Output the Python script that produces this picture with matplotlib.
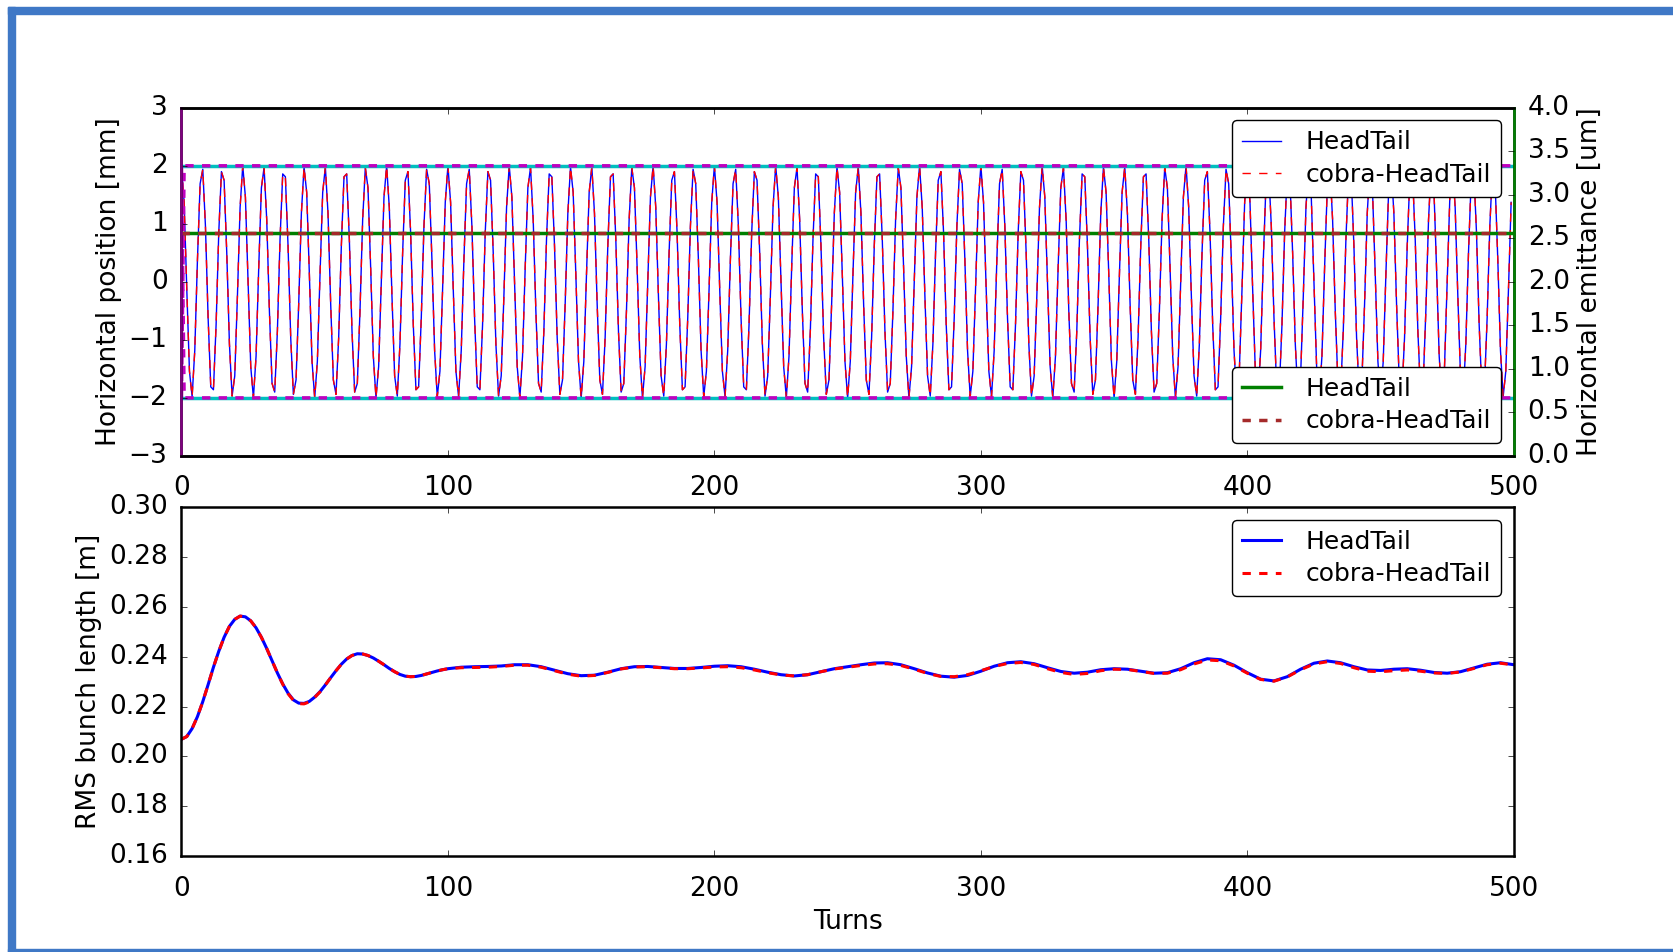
import numpy as np
import matplotlib
matplotlib.use('Agg')
import matplotlib.pyplot as plt
from matplotlib.patches import Rectangle

# horizontal centroid position [mm], one value per turn (turns 0..499)
pos_headtail = [
    2.00, 1.37, -0.13, -1.54, -1.98, -1.18, 0.38, 1.69, 1.94, 0.96,
    -0.62, -1.81, -1.86, -0.74, 0.85, 1.90, 1.75, 0.50, -1.07, -1.97,
    -1.62, -0.25, 1.28, 2.00, 1.46, 0.00, -1.46, -2.00, -1.28, 0.25,
    1.62, 1.97, 1.07, -0.50, -1.75, -1.90, -0.85, 0.74, 1.86, 1.81,
    0.62, -0.96, -1.94, -1.69, -0.38, 1.18, 1.98, 1.54, 0.13, -1.37,
    -2.00, -1.37, 0.13, 1.54, 1.98, 1.18, -0.38, -1.69, -1.94, -0.96,
    0.62, 1.81, 1.86, 0.74, -0.85, -1.90, -1.75, -0.50, 1.07, 1.97,
    1.62, 0.25, -1.28, -2.00, -1.46, 0.00, 1.46, 2.00, 1.28, -0.25,
    -1.62, -1.97, -1.07, 0.50, 1.75, 1.90, 0.85, -0.74, -1.86, -1.81,
    -0.62, 0.96, 1.94, 1.69, 0.38, -1.18, -1.98, -1.54, -0.13, 1.37,
    2.00, 1.37, -0.13, -1.54, -1.98, -1.18, 0.38, 1.69, 1.94, 0.96,
    -0.62, -1.81, -1.86, -0.74, 0.85, 1.90, 1.75, 0.50, -1.07, -1.97,
    -1.62, -0.25, 1.28, 2.00, 1.46, 0.00, -1.46, -2.00, -1.28, 0.25,
    1.62, 1.97, 1.07, -0.50, -1.75, -1.90, -0.85, 0.74, 1.86, 1.81,
    0.62, -0.96, -1.94, -1.69, -0.38, 1.18, 1.98, 1.54, 0.13, -1.37,
    -2.00, -1.37, 0.13, 1.54, 1.98, 1.18, -0.38, -1.69, -1.94, -0.96,
    0.62, 1.81, 1.86, 0.74, -0.85, -1.90, -1.75, -0.50, 1.07, 1.97,
    1.62, 0.25, -1.28, -2.00, -1.46, 0.00, 1.46, 2.00, 1.28, -0.25,
    -1.62, -1.97, -1.07, 0.50, 1.75, 1.90, 0.85, -0.74, -1.86, -1.81,
    -0.62, 0.96, 1.94, 1.69, 0.38, -1.18, -1.98, -1.54, -0.13, 1.37,
    2.00, 1.37, -0.13, -1.54, -1.98, -1.18, 0.38, 1.69, 1.94, 0.96,
    -0.62, -1.81, -1.86, -0.74, 0.85, 1.90, 1.75, 0.50, -1.07, -1.97,
    -1.62, -0.25, 1.28, 2.00, 1.46, 0.00, -1.46, -2.00, -1.28, 0.25,
    1.62, 1.97, 1.07, -0.50, -1.75, -1.90, -0.85, 0.74, 1.86, 1.81,
    0.62, -0.96, -1.94, -1.69, -0.38, 1.18, 1.98, 1.54, 0.13, -1.37,
    -2.00, -1.37, 0.13, 1.54, 1.98, 1.18, -0.38, -1.69, -1.94, -0.96,
    0.62, 1.81, 1.86, 0.74, -0.85, -1.90, -1.75, -0.50, 1.07, 1.97,
    1.62, 0.25, -1.28, -2.00, -1.46, 0.00, 1.46, 2.00, 1.28, -0.25,
    -1.62, -1.97, -1.07, 0.50, 1.75, 1.90, 0.85, -0.74, -1.86, -1.81,
    -0.62, 0.96, 1.94, 1.69, 0.38, -1.18, -1.98, -1.54, -0.13, 1.37,
    2.00, 1.37, -0.13, -1.54, -1.98, -1.18, 0.38, 1.69, 1.94, 0.96,
    -0.62, -1.81, -1.86, -0.74, 0.85, 1.90, 1.75, 0.50, -1.07, -1.97,
    -1.62, -0.25, 1.28, 2.00, 1.46, 0.00, -1.46, -2.00, -1.28, 0.25,
    1.62, 1.97, 1.07, -0.50, -1.75, -1.90, -0.85, 0.74, 1.86, 1.81,
    0.62, -0.96, -1.94, -1.69, -0.38, 1.18, 1.98, 1.54, 0.13, -1.37,
    -2.00, -1.37, 0.13, 1.54, 1.98, 1.18, -0.38, -1.69, -1.94, -0.96,
    0.62, 1.81, 1.86, 0.74, -0.85, -1.90, -1.75, -0.50, 1.07, 1.97,
    1.62, 0.25, -1.28, -2.00, -1.46, 0.00, 1.46, 2.00, 1.28, -0.25,
    -1.62, -1.97, -1.07, 0.50, 1.75, 1.90, 0.85, -0.74, -1.86, -1.81,
    -0.62, 0.96, 1.94, 1.69, 0.38, -1.18, -1.98, -1.54, -0.13, 1.37,
    2.00, 1.37, -0.13, -1.54, -1.98, -1.18, 0.38, 1.69, 1.94, 0.96,
    -0.62, -1.81, -1.86, -0.74, 0.85, 1.90, 1.75, 0.50, -1.07, -1.97,
    -1.62, -0.25, 1.28, 2.00, 1.46, 0.00, -1.46, -2.00, -1.28, 0.25,
    1.62, 1.97, 1.07, -0.50, -1.75, -1.90, -0.85, 0.74, 1.86, 1.81,
    0.62, -0.96, -1.94, -1.69, -0.38, 1.18, 1.98, 1.54, 0.13, -1.37,
    -2.00, -1.37, 0.13, 1.54, 1.98, 1.18, -0.38, -1.69, -1.94, -0.96,
    0.62, 1.81, 1.86, 0.74, -0.85, -1.90, -1.75, -0.50, 1.07, 1.97,
    1.62, 0.25, -1.28, -2.00, -1.46, 0.00, 1.46, 2.00, 1.28, -0.25,
    -1.62, -1.97, -1.07, 0.50, 1.75, 1.90, 0.85, -0.74, -1.86, -1.81,
    -0.62, 0.96, 1.94, 1.69, 0.38, -1.18, -1.98, -1.54, -0.13, 1.37,
]
pos_cobra = list(pos_headtail)

# amplitude envelope [mm]
env_turns = [0, 500]
env_headtail_up = [2.0, 2.0]
env_headtail_lo = [-2.0, -2.0]
env_cobra_turns = [0, 1, 500]
env_cobra_up = [-2.0, 2.0, 2.0]
env_cobra_lo = [2.0, -2.0, -2.0]

# horizontal emittance [um]
emit_turns = [0, 500]
emit_headtail = [2.56, 2.56]
emit_cobra = [2.56, 2.56]

# rms bunch length [m]: every 2 turns up to 98, then every 5 turns
bl_turns = list(range(0, 100, 2)) + list(range(100, 501, 5))
bl_headtail = [
    0.2069, 0.2080, 0.2112, 0.2160, 0.2220, 0.2288, 0.2358, 0.2422, 0.2478, 0.2522,
    0.2550, 0.2563, 0.2560, 0.2544, 0.2516, 0.2478, 0.2433, 0.2384, 0.2335, 0.2291,
    0.2254, 0.2227, 0.2214, 0.2213, 0.2221, 0.2238, 0.2260, 0.2287, 0.2316, 0.2344,
    0.2370, 0.2391, 0.2405, 0.2412, 0.2411, 0.2405, 0.2395, 0.2382, 0.2368, 0.2353,
    0.2340, 0.2329, 0.2322, 0.2320, 0.2321, 0.2325, 0.2331, 0.2337, 0.2343, 0.2348,
    0.2352, 0.2358, 0.2360, 0.2361, 0.2363, 0.2368, 0.2368, 0.2360, 0.2346, 0.2332,
    0.2324, 0.2326, 0.2338, 0.2352, 0.2360, 0.2361, 0.2357, 0.2353, 0.2353, 0.2357,
    0.2362, 0.2364, 0.2360, 0.2350, 0.2338, 0.2328, 0.2323, 0.2328, 0.2340, 0.2352,
    0.2360, 0.2368, 0.2375, 0.2376, 0.2368, 0.2352, 0.2335, 0.2322, 0.2318, 0.2325,
    0.2342, 0.2362, 0.2376, 0.2380, 0.2372, 0.2356, 0.2341, 0.2334, 0.2338, 0.2348,
    0.2352, 0.2350, 0.2342, 0.2334, 0.2336, 0.2352, 0.2376, 0.2392, 0.2388, 0.2366,
    0.2336, 0.2310, 0.2303, 0.2320, 0.2350, 0.2374, 0.2383, 0.2376, 0.2360, 0.2347,
    0.2345, 0.2350, 0.2352, 0.2346, 0.2337, 0.2334, 0.2340, 0.2355, 0.2370, 0.2376,
    0.2368,
]
bl_cobra = [
    0.2069, 0.2080, 0.2112, 0.2160, 0.2220, 0.2288, 0.2358, 0.2422, 0.2478, 0.2522,
    0.2550, 0.2563, 0.2560, 0.2544, 0.2516, 0.2478, 0.2433, 0.2384, 0.2335, 0.2290,
    0.2252, 0.2225, 0.2212, 0.2211, 0.2219, 0.2237, 0.2259, 0.2287, 0.2316, 0.2344,
    0.2370, 0.2391, 0.2405, 0.2412, 0.2411, 0.2405, 0.2395, 0.2382, 0.2368, 0.2353,
    0.2340, 0.2329, 0.2322, 0.2320, 0.2321, 0.2325, 0.2331, 0.2337, 0.2343, 0.2348,
    0.2352, 0.2356, 0.2357, 0.2358, 0.2361, 0.2366, 0.2366, 0.2358, 0.2344, 0.2330,
    0.2322, 0.2325, 0.2337, 0.2351, 0.2359, 0.2360, 0.2356, 0.2352, 0.2352, 0.2355,
    0.2359, 0.2360, 0.2356, 0.2347, 0.2336, 0.2327, 0.2323, 0.2328, 0.2340, 0.2351,
    0.2358, 0.2365, 0.2371, 0.2372, 0.2365, 0.2350, 0.2333, 0.2321, 0.2320, 0.2328,
    0.2344, 0.2361, 0.2373, 0.2377, 0.2369, 0.2352, 0.2337, 0.2329, 0.2333, 0.2344,
    0.2350, 0.2349, 0.2341, 0.2333, 0.2334, 0.2348, 0.2371, 0.2387, 0.2384, 0.2363,
    0.2334, 0.2309, 0.2302, 0.2319, 0.2348, 0.2371, 0.2380, 0.2373, 0.2356, 0.2342,
    0.2340, 0.2344, 0.2347, 0.2342, 0.2335, 0.2333, 0.2339, 0.2353, 0.2368, 0.2374,
    0.2367,
]

plt.style.use('classic')
plt.rcParams.update({
    'figure.facecolor': 'white',
    'savefig.facecolor': 'white',
    'font.size': 19,
    'axes.linewidth': 1.8,
    'xtick.major.pad': 14,
    'ytick.major.pad': 10,
    'legend.fancybox': True,
    'legend.fontsize': 18,
    'legend.numpoints': 1,
})

fig = plt.figure(figsize=(16.74, 9.52), dpi=100)
ax1 = fig.add_axes([0.1084, 0.5211, 0.7959, 0.3657])
ax2 = ax1.twinx()
ax3 = fig.add_axes([0.1084, 0.1006, 0.7959, 0.3667])

turns = np.arange(len(pos_headtail))
l1, = ax1.plot(turns, pos_headtail, 'b-', lw=1, label='HeadTail')
l2, = ax1.plot(turns, pos_cobra, 'r--', lw=1, label='cobra-HeadTail')
ax1.plot(env_turns, env_headtail_up, 'c-', lw=2.5)
ax1.plot(env_turns, env_headtail_lo, 'c-', lw=2.5)
ax1.plot(env_cobra_turns, env_cobra_up, 'm--', lw=2.5)
ax1.plot(env_cobra_turns, env_cobra_lo, 'm--', lw=2.5)
ax1.set_xlim(0, 500)
ax1.set_ylim(-3, 3)
ax1.set_ylabel('Horizontal position [mm]')

e1, = ax2.plot(emit_turns, emit_headtail, 'g-', lw=2.5, label='HeadTail')
e2, = ax2.plot(emit_turns, emit_cobra, '--', color='brown', lw=2.5, label='cobra-HeadTail')
ax2.set_xlim(0, 500)
ax2.set_ylim(0, 4)
ax2.set_ylabel('Horizontal emittance [um]')
ax2.spines['left'].set_color('purple')
ax2.spines['right'].set_color('green')

leg_kw = dict(handlelength=1.55, handletextpad=1.0, labelspacing=0.35, borderpad=0.4)
leg1 = ax2.legend(handles=[l1, l2], loc='upper right', **leg_kw)
ax2.add_artist(leg1)
ax2.legend(handles=[e1, e2], loc='lower right', **leg_kw)

ax3.plot(bl_turns, bl_headtail, 'b-', lw=2.2, label='HeadTail')
ax3.plot(bl_turns, bl_cobra, 'r--', lw=2.2, label='cobra-HeadTail')
ax3.set_xlim(0, 500)
ax3.set_ylim(0.16, 0.30)
ax3.set_yticks(np.arange(0.16, 0.301, 0.02))
ax3.set_xlabel('Turns')
ax3.set_ylabel('RMS bunch length [m]')
ax3.legend(loc='upper right', **leg_kw)

# screenshot frame
blue = '#3f78c6'
W, H = 1674.0, 952.0
fig.patches.append(Rectangle((8 / W, 0), 7 / W, 1 - 7 / H, transform=fig.transFigure,
                             color=blue, zorder=-1))
fig.patches.append(Rectangle((8 / W, 1 - 14 / H), 1, 7 / H, transform=fig.transFigure,
                             color=blue, zorder=-1))
fig.patches.append(Rectangle((8 / W, 0), 1, 3 / H, transform=fig.transFigure,
                             color=blue, zorder=-1))

fig.savefig('out.png', dpi=100)
